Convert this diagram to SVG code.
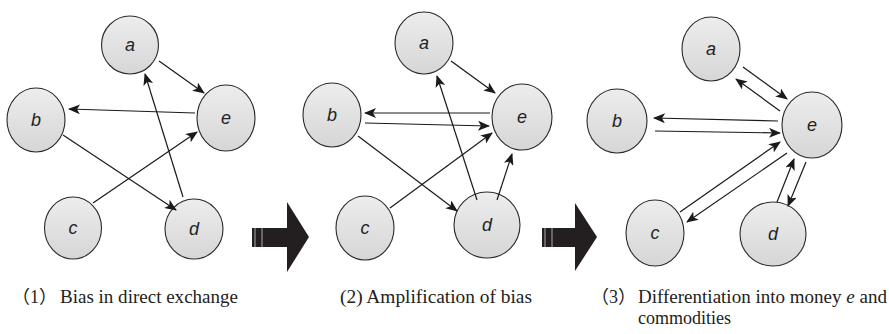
<svg xmlns="http://www.w3.org/2000/svg" width="889" height="334" viewBox="0 0 889 334">
  <defs>
    <linearGradient id="nodeFill" x1="0" y1="0" x2="0" y2="1">
      <stop offset="0" stop-color="#ededed"/>
      <stop offset="1" stop-color="#d6d6d6"/>
    </linearGradient>
    <marker id="head" viewBox="0 0 12 10" markerWidth="12" markerHeight="10" refX="11" refY="5" orient="auto" markerUnits="userSpaceOnUse">
      <path d="M0,0 L12,5 L0,10 L3,5 z" fill="#1a1a1a"/>
    </marker>
  </defs>
  <style>
    .node ellipse { fill: url(#nodeFill); stroke: #2a2a2a; stroke-width: 1.1; }
    .node text { font-family: "Liberation Sans", Arial, sans-serif; font-style: italic; font-size: 18px; fill: #222; text-anchor: middle; }
    .edges line { stroke: #1a1a1a; stroke-width: 1.2; marker-end: url(#head); }
    .bigarrow { fill: #231f20; }
    .stripe { stroke: #cfcfcf; stroke-width: 0.8; }
    .caption { font-family: "Liberation Serif", "Times New Roman", "Noto Sans CJK JP", serif; font-size: 18px; fill: #222; }
  </style>

  <!-- Panel 1: bias in direct exchange -->
  <g id="p1-a" class="node"><ellipse cx="130" cy="45" rx="28.5" ry="29"/><text x="130" y="51">a</text></g>
  <g id="p1-b" class="node"><ellipse cx="36" cy="120" rx="29" ry="32"/><text x="36" y="126">b</text></g>
  <g id="p1-e" class="node"><ellipse cx="226" cy="118" rx="29" ry="33"/><text x="226" y="124">e</text></g>
  <g id="p1-c" class="node"><ellipse cx="73" cy="228" rx="28.5" ry="31"/><text x="73" y="234">c</text></g>
  <g id="p1-d" class="node"><ellipse cx="194" cy="229" rx="29" ry="30"/><text x="194" y="235">d</text></g>
  <g id="p1-edges" class="edges">
    <line x1="159" y1="61" x2="204" y2="93"/>
    <line x1="195" y1="113" x2="69" y2="109"/>
    <line x1="183" y1="197" x2="145" y2="74"/>
    <line x1="63" y1="135" x2="176" y2="210"/>
    <line x1="93" y1="203" x2="197" y2="132"/>
  </g>

  <!-- Transition arrows -->
  <g id="step1">
    <path class="bigarrow" d="M252,228 H287 V202 L309,237 L287,272 V247 H252 Z"/>
    <line class="stripe" x1="255" y1="228" x2="255" y2="247"/>
    <line class="stripe" x1="262" y1="228" x2="262" y2="247"/>
  </g>
  <g id="step2">
    <path class="bigarrow" d="M542,228 H575 V203 L597,237 L575,271 V247 H542 Z"/>
    <line class="stripe" x1="545" y1="228" x2="545" y2="247"/>
    <line class="stripe" x1="552" y1="228" x2="552" y2="247"/>
  </g>

  <!-- Panel 2: amplification of bias -->
  <g id="p2-a" class="node"><ellipse cx="424" cy="43" rx="29" ry="31"/><text x="424" y="49">a</text></g>
  <g id="p2-b" class="node"><ellipse cx="332" cy="115" rx="29" ry="32"/><text x="332" y="121">b</text></g>
  <g id="p2-e" class="node"><ellipse cx="522" cy="117" rx="30" ry="33"/><text x="522" y="123">e</text></g>
  <g id="p2-c" class="node"><ellipse cx="365" cy="228" rx="29" ry="32"/><text x="365" y="234">c</text></g>
  <g id="p2-d" class="node"><ellipse cx="487" cy="225" rx="33" ry="33"/><text x="487" y="231">d</text></g>
  <g id="p2-edges" class="edges">
    <line x1="451" y1="61" x2="495" y2="93"/>
    <line x1="490" y1="113" x2="365" y2="113"/>
    <line x1="365" y1="123" x2="489" y2="126"/>
    <line x1="358" y1="136" x2="457" y2="211"/>
    <line x1="390" y1="208" x2="492" y2="133"/>
    <line x1="477" y1="200" x2="437" y2="76"/>
    <line x1="497" y1="200" x2="512" y2="154"/>
  </g>

  <!-- Panel 3: differentiation into money e and commodities -->
  <g id="p3-a" class="node"><ellipse cx="711" cy="49" rx="29" ry="32"/><text x="711" y="55">a</text></g>
  <g id="p3-b" class="node"><ellipse cx="617" cy="121" rx="30" ry="32"/><text x="617" y="127">b</text></g>
  <g id="p3-e" class="node"><ellipse cx="812" cy="125" rx="30" ry="33"/><text x="812" y="131">e</text></g>
  <g id="p3-c" class="node"><ellipse cx="655" cy="233" rx="29" ry="33"/><text x="655" y="239">c</text></g>
  <g id="p3-d" class="node"><ellipse cx="773" cy="234" rx="33" ry="32"/><text x="773" y="240">d</text></g>
  <g id="p3-edges" class="edges">
    <line x1="743" y1="67" x2="787" y2="99"/>
    <line x1="780" y1="111" x2="736" y2="79"/>
    <line x1="778" y1="121" x2="654" y2="118"/>
    <line x1="655" y1="131" x2="780" y2="133"/>
    <line x1="680" y1="212" x2="780" y2="142"/>
    <line x1="787" y1="153" x2="687" y2="222"/>
    <line x1="777" y1="202" x2="794" y2="159"/>
    <line x1="806" y1="162" x2="788" y2="206"/>
  </g>

  <!-- Captions -->
  <g id="captions" class="caption">
    <text x="12" y="303">（1）</text>
    <text x="60" y="303" textLength="178" lengthAdjust="spacingAndGlyphs">Bias in direct exchange</text>
    <text x="340" y="303" textLength="192" lengthAdjust="spacingAndGlyphs">(2) Amplification of bias</text>
    <text x="591" y="303">（3）</text>
    <text x="638" y="303" textLength="249" lengthAdjust="spacingAndGlyphs">Differentiation into money <tspan font-style="italic">e</tspan> and</text>
    <text x="638" y="324">commodities</text>
  </g>
</svg>
